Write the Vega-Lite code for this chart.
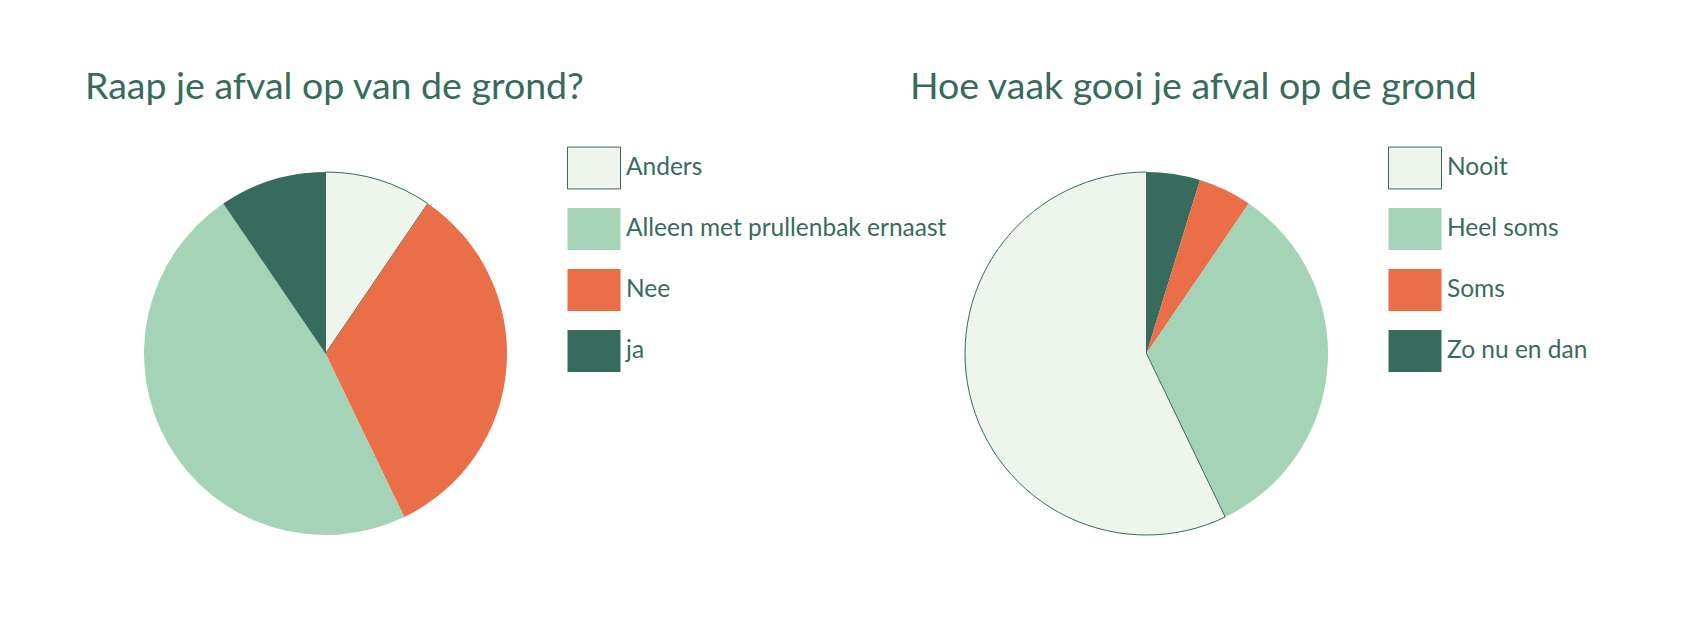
{
  "$schema": "https://vega.github.io/schema/vega-lite/v6.json",
  "background": "white",
  "padding": {"left": 85, "top": 68, "right": 0, "bottom": 0},
  "autosize": {"type": "pad"},
  "config": {
    "view": {"stroke": null},
    "font": "Lato",
    "legend": {
      "orient": "none",
      "legendX": 423,
      "legendY": -31,
      "title": null,
      "padding": 0,
      "symbolType": "M-1,-0.79H1V0.79H-1Z",
      "symbolSize": 2809,
      "symbolStrokeWidth": 1,
      "labelFontSize": 24.5,
      "labelFont": "Lato",
      "labelColor": "#376B5E",
      "labelOffset": 5,
      "labelLimit": 600,
      "rowPadding": 11
    }
  },
  "bounds": "flush",
  "spacing": 458,
  "hconcat": [
    {
      "width": 363,
      "height": 363,
      "title": {"text": "Raap je afval op van de grond?", "anchor": "start", "dx": -57, "offset": 5, "baseline": "alphabetic", "fontSize": 37.5, "fontWeight": "normal", "color": "#376B5E", "font": "Lato"},
      "data": {"values": [
        {"antwoord": "Anders", "aantal": 2, "volgorde": 1},
        {"antwoord": "Nee", "aantal": 7, "volgorde": 2},
        {"antwoord": "Alleen met prullenbak ernaast", "aantal": 10, "volgorde": 3},
        {"antwoord": "ja", "aantal": 2, "volgorde": 4}
      ]},
      "mark": {"type": "arc", "strokeWidth": 1},
      "encoding": {
        "theta": {"field": "aantal", "type": "quantitative", "stack": true},
        "order": {"field": "volgorde", "type": "quantitative"},
        "color": {"field": "antwoord", "type": "nominal",
          "scale": {"domain": ["Anders", "Alleen met prullenbak ernaast", "Nee", "ja"], "range": ["#EEF5EC", "#A4D3B7", "#EA6E47", "#376B5E"]}},
        "stroke": {"field": "antwoord", "type": "nominal",
          "scale": {"domain": ["Anders", "Alleen met prullenbak ernaast", "Nee", "ja"], "range": ["#376B5E", "transparent", "transparent", "transparent"]}}
      }
    },
    {
      "width": 363,
      "height": 363,
      "title": {"text": "Hoe vaak gooi je afval op de grond", "anchor": "start", "dx": -53, "offset": 5, "baseline": "alphabetic", "fontSize": 37.5, "fontWeight": "normal", "color": "#376B5E", "font": "Lato"},
      "data": {"values": [
        {"antwoord": "Zo nu en dan", "aantal": 1, "volgorde": 1},
        {"antwoord": "Soms", "aantal": 1, "volgorde": 2},
        {"antwoord": "Heel soms", "aantal": 7, "volgorde": 3},
        {"antwoord": "Nooit", "aantal": 12, "volgorde": 4}
      ]},
      "mark": {"type": "arc", "strokeWidth": 1},
      "encoding": {
        "theta": {"field": "aantal", "type": "quantitative", "stack": true},
        "order": {"field": "volgorde", "type": "quantitative"},
        "color": {"field": "antwoord", "type": "nominal",
          "scale": {"domain": ["Nooit", "Heel soms", "Soms", "Zo nu en dan"], "range": ["#EEF5EC", "#A4D3B7", "#EA6E47", "#376B5E"]}},
        "stroke": {"field": "antwoord", "type": "nominal",
          "scale": {"domain": ["Nooit", "Heel soms", "Soms", "Zo nu en dan"], "range": ["#376B5E", "transparent", "transparent", "transparent"]}}
      }
    }
  ],
  "resolve": {"scale": {"color": "independent", "stroke": "independent"}}
}
